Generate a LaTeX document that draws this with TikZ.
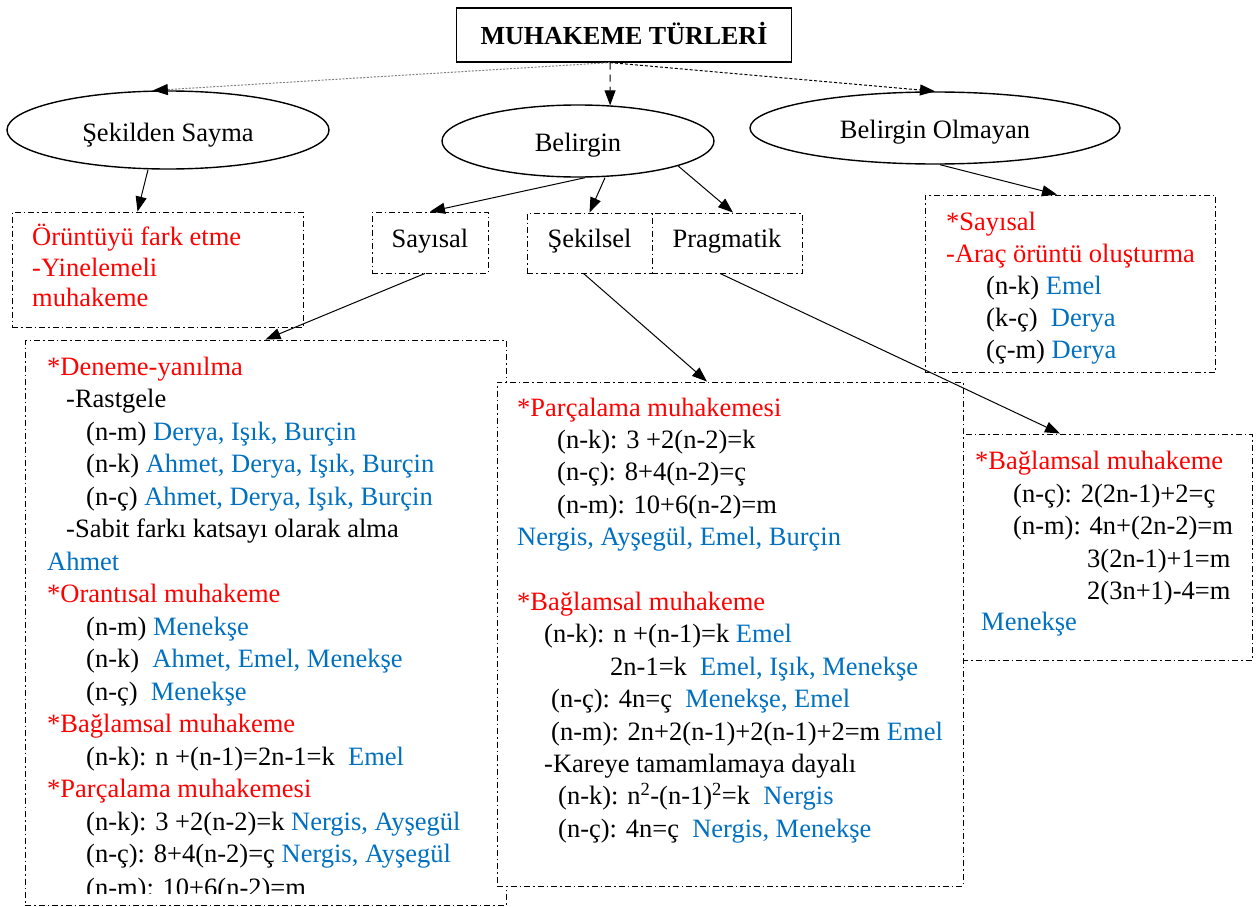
\documentclass[tikz,border=0pt]{standalone}
\usepackage{fontspec}
\setmainfont{Liberation Serif}
\usetikzlibrary{arrows.meta,shapes.geometric}
\definecolor{myred}{HTML}{FF0000}
\definecolor{myblue}{HTML}{0070C0}
\newcommand\rd[1]{\textcolor{myred}{#1}}
\newcommand\bl[1]{\textcolor{myblue}{#1}}
\begin{document}
\begin{tikzpicture}[x=1pt,y=-1pt,
  every node/.style={font=\fontsize{26.5}{32}\selectfont},
  oval/.style={draw,ellipse,line width=1.4pt,inner sep=0pt},
  dbox/.style={draw,line width=0.9pt,dash pattern=on 6pt off 3pt on 1.5pt off 3pt,fill=white,inner sep=0pt},
  tx/.style={anchor=base west,inner sep=0pt},
  ctx/.style={anchor=base,inner sep=0pt},
  arr/.style={line width=1pt,-{Triangle[length=15pt,width=11pt,color=black]}},
]
\useasboundingbox[fill=white] (0,0) rectangle (1258,907);

% title
\node[draw,line width=1.2pt,minimum width=335pt,minimum height=54pt,inner sep=0pt] (title) at (624,35) {};
\node[ctx,font=\fontsize{26}{32}\selectfont\bfseries] (ttl) at (624,45) {MUHAKEME TÜRLERİ};

% ellipses
\node[oval,minimum width=322pt,minimum height=78pt] (e1) at (168,130) {};
\node[ctx] (e1t) at (168,141) {Şekilden Sayma};
\node[oval,minimum width=272pt,minimum height=72pt] (e2) at (578,141) {};
\node[ctx] (e2t) at (578,151) {Belirgin};
\node[oval,minimum width=370pt,minimum height=72pt] (e3) at (935,128) {};
\node[ctx] (e3t) at (935,138) {Belirgin Olmayan};

% small boxes
\node[dbox,minimum width=291pt,minimum height=115pt] (b1) at (157.5,269.5) {};
\node[tx] (b1a) at (32,245) {\rd{Örüntüyü fark etme}};
\node[tx] (b1b) at (32,276) {\rd{-Yinelemeli}};
\node[tx] (b1c) at (32,306) {\rd{muhakeme}};

\node[dbox,minimum width=116pt,minimum height=61pt] (say) at (430,242.5) {};
\node[ctx] (sayt) at (430,247) {Sayısal};
\node[dbox,minimum width=125pt,minimum height=60pt] (sek) at (589.5,243) {};
\node[ctx] (sekt) at (589.5,247) {Şekilsel};
\node[dbox,minimum width=150pt,minimum height=60pt] (prag) at (727,243) {};
\node[ctx] (pragt) at (727,247) {Pragmatik};

% right top box
\node[dbox,minimum width=290pt,minimum height=177pt] (rb) at (1070,283.5) {};
\node[tx] (rb1) at (946,230) {\rd{*Sayısal}};
\node[tx] (rb2) at (946,262) {\rd{-Araç örüntü oluşturma}};
\node[tx] (rb3) at (986,294) {(n-k) \bl{Emel}};
\node[tx] (rb4) at (986,326) {(k-ç)\ \ \bl{Derya}};
\node[tx] (rb5) at (986,358) {(ç-m) \bl{Derya}};

% left big box
\node[dbox,minimum width=481pt,minimum height=565pt] (lb) at (265.5,622.5) {};
\node[tx] (l1) at (47,375) {\rd{*Deneme-yanılma}};
\node[tx] (l2) at (66,407.5) {-Rastgele};
\node[tx] (l3) at (86,440) {(n-m) \bl{Derya, Işık, Burçin}};
\node[tx] (l4) at (86,472.5) {(n-k) \bl{Ahmet, Derya, Işık, Burçin}};
\node[tx] (l5) at (86,505) {(n-ç) \bl{Ahmet, Derya, Işık, Burçin}};
\node[tx] (l6) at (66,537.5) {-Sabit farkı katsayı olarak alma};
\node[tx] (l7) at (47,570) {\bl{Ahmet}};
\node[tx] (l8) at (47,602.5) {\rd{*Orantısal muhakeme}};
\node[tx] (l9) at (86,635) {(n-m) \bl{Menekşe}};
\node[tx] (l10) at (86,667.5) {(n-k)\ \ \bl{Ahmet, Emel, Menekşe}};
\node[tx] (l11) at (86,700) {(n-ç)\ \ \bl{Menekşe}};
\node[tx] (l12) at (47,732.5) {\rd{*Bağlamsal muhakeme}};
\node[tx] (l13) at (86,765) {(n-k): n +(n-1)=2n-1=k\ \ \bl{Emel}};
\node[tx] (l14) at (47,797.5) {\rd{*Parçalama muhakemesi}};
\node[tx] (l15) at (86,830) {(n-k): 3 +2(n-2)=k \bl{Nergis, Ayşegül}};
\node[tx] (l16) at (86,862.5) {(n-ç): 8+4(n-2)=ç \bl{Nergis, Ayşegül}};
\begin{scope}
\clip (25,340) rectangle (506,893);
\node[tx] (l17) at (86,896) {(n-m): 10+6(n-2)=m};
\end{scope}

% bottom right box
\node[dbox,minimum width=290pt,minimum height=226pt] (br) at (1107,547) {};
\node[tx] (r1) at (975,469) {\rd{*Bağlamsal muhakeme}};
\node[tx] (r2) at (1013,502) {(n-ç): 2(2n-1)+2=ç};
\node[tx] (r3) at (1013,534.5) {(n-m): 4n+(2n-2)=m};
\node[tx] (r4) at (1087,567) {3(2n-1)+1=m};
\node[tx] (r5) at (1087,599) {2(3n+1)-4=m};
\node[tx] (r6) at (981,630) {\bl{Menekşe}};

% middle box
\node[dbox,minimum width=466pt,minimum height=504pt] (mb) at (730,634) {};
\node[tx] (m1) at (517,416) {\rd{*Parçalama muhakemesi}};
\node[tx] (m2) at (557,448.4) {(n-k): 3 +2(n-2)=k};
\node[tx] (m3) at (557,480.8) {(n-ç): 8+4(n-2)=ç};
\node[tx] (m4) at (557,513.2) {(n-m): 10+6(n-2)=m};
\node[tx] (m5) at (517,545.6) {\bl{Nergis, Ayşegül, Emel, Burçin}};
\node[tx] (m6) at (517,610.4) {\rd{*Bağlamsal muhakeme}};
\node[tx] (m7) at (544,642.8) {(n-k): n +(n-1)=k \bl{Emel}};
\node[tx] (m8) at (610,675.2) {2n-1=k\ \ \bl{Emel, Işık, Menekşe}};
\node[tx] (m9) at (551,707.6) {(n-ç): 4n=ç\ \ \bl{Menekşe, Emel}};
\node[tx] (m10) at (551,740) {(n-m): 2n+2(n-1)+2(n-1)+2=m \bl{Emel}};
\node[tx] (m11) at (544,772.4) {-Kareye tamamlamaya dayalı};
\node[tx] (m12) at (558,804.8) {(n-k): n\textsuperscript{2}-(n-1)\textsuperscript{2}=k\ \ \bl{Nergis}};
\node[tx] (m13) at (558,837.2) {(n-ç): 4n=ç\ \ \bl{Nergis, Menekşe}};

% connectors
\draw[arr,gray,dash pattern=on 2pt off 1.5pt] ([xshift=-14pt]title.south) -- (e1.111);
\draw[arr,dash pattern=on 7pt off 5pt] ([xshift=-14pt]title.south) -- (e2.48);
\draw[arr,dash pattern=on 3pt off 2pt] ([xshift=-14pt]title.south) -- (e3.north);
\draw[arr] ([xshift=-20pt]e1.south) -- ([xshift=-20pt]b1.north);
\draw[arr] ([xshift=7pt]e2.south) -- (say.north);
\draw[arr] ([xshift=27pt]e2.south) -- (sek.north);
\draw[arr] (e2.-14) -- ([xshift=6pt]prag.north);
\draw[arr] ([xshift=5pt]e3.south) -- ([xshift=-13pt]rb.north);
\draw[arr] ([xshift=-5pt]say.south) -- (lb.north);
\draw[arr] ([xshift=-6pt]sek.south) -- ([xshift=-23pt]mb.north);
\draw[arr] ([xshift=-7pt]prag.south) -- ([xshift=-47pt]br.north);
\end{tikzpicture}
\end{document}
